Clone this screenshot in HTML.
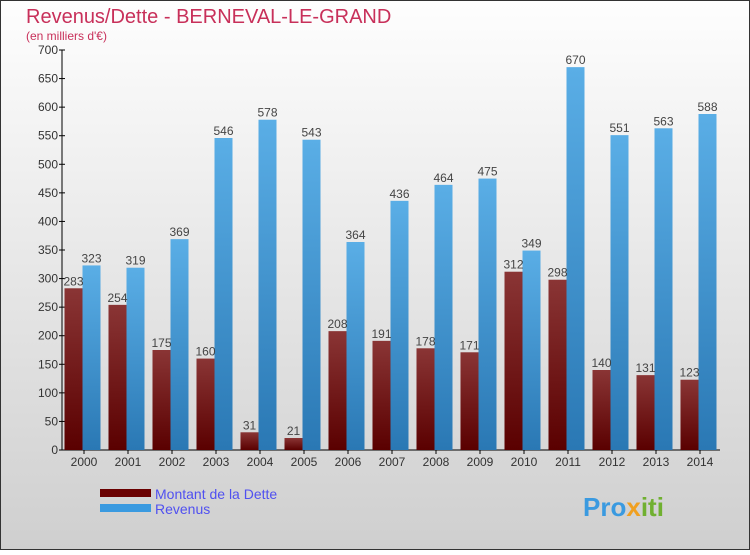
<!DOCTYPE html>
<html><head><meta charset="utf-8"><style>
body{margin:0;width:750px;height:550px;overflow:hidden;font-family:"Liberation Sans",sans-serif}
</style></head><body>
<svg width="750" height="550" xmlns="http://www.w3.org/2000/svg">
<defs>
<linearGradient id="bg" x1="0" y1="0" x2="0" y2="1"><stop offset="0" stop-color="#fefefe"/><stop offset="1" stop-color="#cfcfcf"/></linearGradient>
<linearGradient id="gd" x1="0" y1="0" x2="0" y2="1"><stop offset="0" stop-color="#8a3535"/><stop offset="1" stop-color="#5a0000"/></linearGradient>
<linearGradient id="gr" x1="0" y1="0" x2="0" y2="1"><stop offset="0" stop-color="#5aaee6"/><stop offset="1" stop-color="#2a78b4"/></linearGradient>
</defs>
<rect x="0.5" y="0.5" width="749" height="549" fill="url(#bg)" stroke="#333"/>
<text x="26" y="23" font-size="20" fill="#c8305a">Revenus/Dette - BERNEVAL-LE-GRAND</text>
<text x="26" y="40" font-size="12" fill="#c8305a">(en milliers d'€)</text>
<g id="axes"></g>
<g id="bars"></g>
<g>
<rect x="100" y="489" width="51" height="8" fill="#6a0000"/>
<text x="155" y="499" font-size="14" fill="#5050f0">Montant de la Dette</text>
<rect x="100" y="504" width="51" height="8" fill="#3a9ae0"/>
<text x="155" y="514" font-size="14" fill="#5050f0">Revenus</text>
</g>
<text x="583" y="516" font-size="26" font-weight="bold" fill="#3a9ae0">Pro<tspan fill="#f0a020">x</tspan><tspan fill="#70b030">iti</tspan></text>
</svg>
<script>
const years=["2000","2001","2002","2003","2004","2005","2006","2007","2008","2009","2010","2011","2012","2013","2014"];
const dette=[283,254,175,160,31,21,208,191,178,171,312,298,140,131,123];
const revenus=[323,319,369,546,578,543,364,436,464,475,349,670,551,563,588];
const ticks=[0,50,100,150,200,250,300,350,400,450,500,550,600,650,700];
const NS="http://www.w3.org/2000/svg";
const x0=62,gw=44,y0=450,ymax=700,ph=400;
const y=v=>y0-v/ymax*ph;
function mk(t,a,p){const e=document.createElementNS(NS,t);for(const k in a)e.setAttribute(k,a[k]);p.appendChild(e);return e;}
const ax=document.getElementById('axes'),bg=document.getElementById('bars');
let l=mk('line',{x1:x0,y1:50,x2:x0,y2:y0,stroke:'#000'},ax);


l=mk('line',{x1:x0,y1:y0,x2:720,y2:y0,stroke:'#000'},ax);


ticks.forEach(t=>{
 mk('line',{x1:x0-3,y1:y(t),x2:x0+3,y2:y(t),stroke:'#000'},ax);
 const tx=mk('text',{x:x0-4,y:y(t)+4,'font-size':12,'text-anchor':'end',fill:'#333'},ax);
 tx.textContent=t;
 
 
});
years.forEach((yr,i)=>{
 const gx=x0+i*gw;
 mk('line',{x1:gx+gw/2,y1:y0,x2:gx+gw/2,y2:y0+4,stroke:'#000'},ax);
 const tx=mk('text',{x:gx+gw/2,y:y0+16,'font-size':12,'text-anchor':'middle',fill:'#333'},ax);
 tx.textContent=yr;
 
 
 const r1=mk('rect',{x:gx+2.5,y:y(dette[i]),width:18,height:y0-y(dette[i]),fill:'url(#gd)'},bg);
 
 
 const r2=mk('rect',{x:gx+20.5,y:y(revenus[i]),width:18,height:y0-y(revenus[i]),fill:'url(#gr)'},bg);
 
 
 const t1=mk('text',{x:gx+11.5,y:y(dette[i])-3,'font-size':12,'text-anchor':'middle',fill:'#444'},bg);
 t1.textContent=dette[i];
 
 
 const t2=mk('text',{x:gx+29.5,y:y(revenus[i])-3,'font-size':12,'text-anchor':'middle',fill:'#444'},bg);
 t2.textContent=revenus[i];
 
 
});
</script>
</body></html>
